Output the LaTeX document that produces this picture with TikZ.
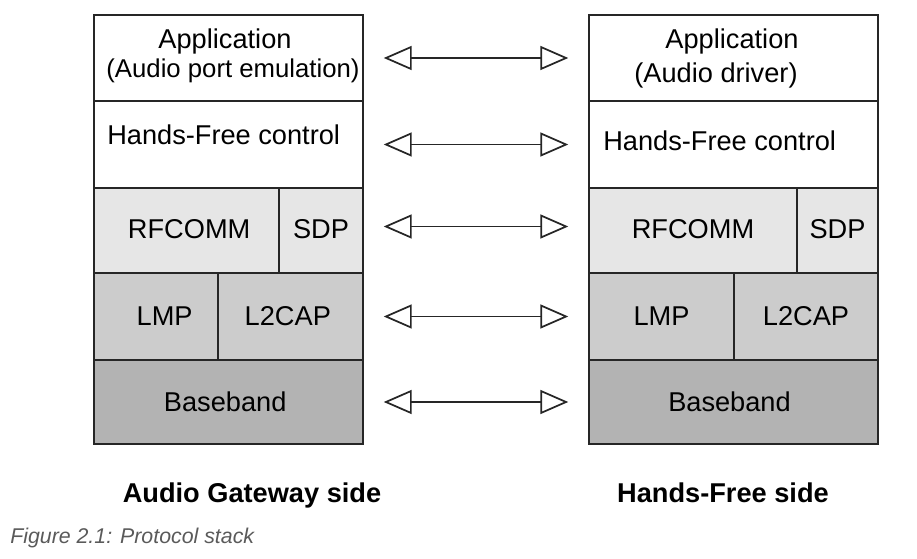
\documentclass[tikz,border=0pt]{standalone}
\usepackage{fontspec}
\setmainfont{Liberation Sans}
\usetikzlibrary{arrows.meta,fit}
\definecolor{psTop}{HTML}{E6E6E6}
\definecolor{psMid}{HTML}{CCCCCC}
\definecolor{psLow}{HTML}{B3B3B3}
\definecolor{psCap}{HTML}{5A5A5A}
\newcommand{\stackfont}{\fontsize{20.4pt}{24pt}\selectfont}
\tikzset{
  layer/.style={draw=black!85, line width=1.1pt, inner sep=0pt},
  toplayer/.style={layer, fill=psTop},
  midlayer/.style={layer, fill=psMid},
  lowlayer/.style={layer, fill=psLow},
  every label/.style={inner sep=0pt, font=\stackfont},
  txt/.style={inner sep=0pt, font=\stackfont},
  side/.style={inner sep=0pt, anchor=base, font=\fontsize{20.4pt}{24pt}\selectfont\bfseries},
  peer/.style={
    {Triangle[open, length=21pt, width=18pt, line width=1.3pt]}-{Triangle[open, length=21pt, width=18pt, line width=1.3pt]},
    line width=0.8pt, black!85, shorten <=15pt, shorten >=15pt
  }
}
\begin{document}
\begin{tikzpicture}[x=0.75pt, y=-0.75pt]
  \useasboundingbox (0,0) rectangle (917,559);
  % Audio Gateway stack
  \node[layer, fit={(94,15) (363,101)}] (agapp) {};
  \node[layer, fit={(94,101) (363,188)}] (aghf) {};
  \node[toplayer, fit={(94,188) (279,273)}, label={[xshift=2pt, yshift=1pt]center:RFCOMM}] (agrfc) {};
  \node[toplayer, fit={(279,188) (363,273)}, label={[yshift=1pt]center:SDP}] (agsdp) {};
  \node[midlayer, fit={(94,273) (218,360)}, label={[xshift=6.5pt]center:LMP}] (aglmp) {};
  \node[midlayer, fit={(218,273) (363,360)}, label={[xshift=-2pt]center:L2CAP}] (agl2c) {};
  \node[lowlayer, fit={(94,360) (363,444)}, label={[xshift=-2.5pt]center:Baseband}] (agbb) {};
  \node[txt] (agapptxt) at (225,41) {Application};
  \node[txt, font=\fontsize{19.3pt}{23pt}\selectfont] (agappsub) at (233,71) {(Audio port emulation)};
  \node[txt, anchor=west] (aghftxt) at (107,135) {Hands-Free control};
  % Hands-Free stack
  \node[layer, fit={(589,15) (878,101)}] (hfapp) {};
  \node[layer, fit={(589,101) (878,188)}] (hfhf) {};
  \node[toplayer, fit={(589,188) (797,273)}, label={[yshift=1pt]center:RFCOMM}] (hfrfc) {};
  \node[toplayer, fit={(797,188) (878,273)}, label={[yshift=1pt]center:SDP}] (hfsdp) {};
  \node[midlayer, fit={(589,273) (734,360)}, label={center:LMP}] (hflmp) {};
  \node[midlayer, fit={(734,273) (878,360)}, label={center:L2CAP}] (hfl2c) {};
  \node[lowlayer, fit={(589,360) (878,444)}, label={[xshift=-3pt]center:Baseband}] (hfbb) {};
  \node[txt] (hfapptxt) at (732,41) {Application};
  \node[txt] (hfappsub) at (716,75) {(Audio driver)};
  \node[txt, anchor=west] (hfhftxt) at (603,141) {Hands-Free control};
  % peer links
  \draw[peer] (agapp.east) -- (hfapp.west);
  \draw[peer] (aghf.east) -- (hfhf.west);
  \draw[peer] ([yshift=3pt]agsdp.east) -- ([yshift=3pt]hfrfc.west);
  \draw[peer] (agl2c.east) -- (hflmp.west);
  \draw[peer] (agbb.east) -- (hfbb.west);
  % captions
  \node[side] (agside) at (252,502) {Audio Gateway side};
  \node[side] (hfside) at (723,502) {Hands-Free side};
  \node[inner sep=0pt, anchor=west, text=psCap, font=\fontsize{16pt}{19pt}\selectfont\itshape] (figcap) at (10,538) {Figure 2.1: Protocol stack};
\end{tikzpicture}
\end{document}
